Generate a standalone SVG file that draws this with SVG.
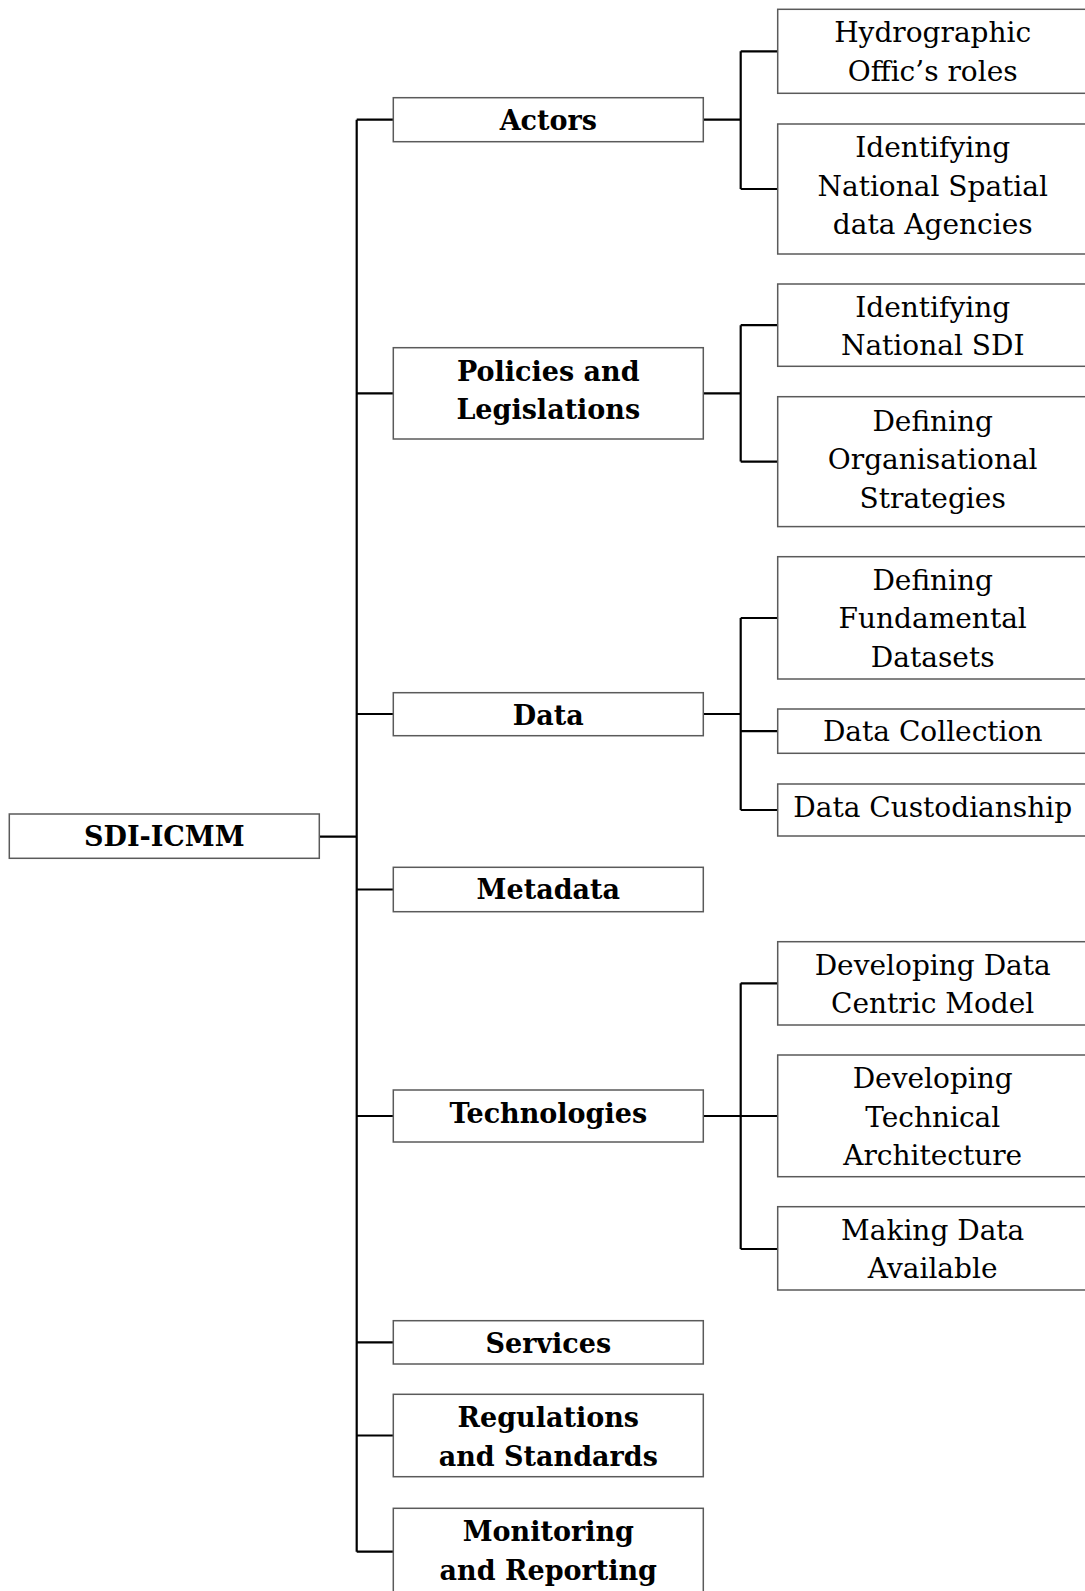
<svg xmlns="http://www.w3.org/2000/svg" width="1085" height="1591" viewBox="0 0 1085 1591">
<style>
.box{fill:#fff;stroke:#5a5a5a;stroke-width:1.5}
.t{font-family:"DejaVu Serif","Liberation Serif",serif;font-size:28px;fill:#000;text-anchor:middle}
.b{font-weight:bold;font-size:27px}
.c{fill:none;stroke:#000;stroke-width:2.2}
</style>
<rect width="1085" height="1591" fill="#fff"/>
<g id="connectors">
<path class="c" d="M356.7,119.7V1551.7M319.3,836.7H356.7M356.7,119.7H393.3M356.7,393.3H393.3M356.7,714H393.3M356.7,889.5H393.3M356.7,1116H393.3M356.7,1342.3H393.3M356.7,1435.5H393.3M356.7,1551.7H393.3"/>
<path class="c" d="M703.3,119.7H740.7M740.7,51.3V189M740.7,51.3H777.7M740.7,189H777.7"/>
<path class="c" d="M703.3,393.3H740.7M740.7,325.2V461.6M740.7,325.2H777.7M740.7,461.6H777.7"/>
<path class="c" d="M703.3,714H740.7M740.7,618V810M740.7,618H777.7M740.7,731.2H777.7M740.7,810H777.7"/>
<path class="c" d="M703.3,1116H740.7M740.7,983.3V1249M740.7,983.3H777.7M740.7,1116H777.7M740.7,1249H777.7"/>
</g>
<g id="sdi-icmm"><rect class="box" x="9.3" y="814" width="310" height="44.3"/><text class="t b" x="164.3" y="846">SDI-ICMM</text></g>
<g id="actors"><rect class="box" x="393.3" y="97.7" width="310" height="44"/><text class="t b" x="548.3" y="129.7">Actors</text></g>
<g id="policies"><rect class="box" x="393.3" y="347.7" width="310" height="91.3"/><text class="t b" x="548.3" y="380.7">Policies and</text><text class="t b" x="548.3" y="419.2">Legislations</text></g>
<g id="data"><rect class="box" x="393.3" y="692.7" width="310" height="43"/><text class="t b" x="548.3" y="724.7">Data</text></g>
<g id="metadata"><rect class="box" x="393.3" y="867.3" width="310" height="44.4"/><text class="t b" x="548.3" y="899.3">Metadata</text></g>
<g id="technologies"><rect class="box" x="393.3" y="1090" width="310" height="52"/><text class="t b" x="548.3" y="1123">Technologies</text></g>
<g id="services"><rect class="box" x="393.3" y="1320.7" width="310" height="43.3"/><text class="t b" x="548.3" y="1352.7">Services</text></g>
<g id="regulations"><rect class="box" x="393.3" y="1394.3" width="310" height="82.4"/><text class="t b" x="548.3" y="1427.3">Regulations</text><text class="t b" x="548.3" y="1465.8">and Standards</text></g>
<g id="monitoring"><rect class="box" x="393.3" y="1508.3" width="310" height="87"/><text class="t b" x="548.3" y="1541.3">Monitoring</text><text class="t b" x="548.3" y="1579.8">and Reporting</text></g>
<g id="hydrographic"><rect class="box" x="777.7" y="9.3" width="310" height="84"/><text class="t" x="932.7" y="42.3">Hydrographic</text><text class="t" x="932.7" y="80.8">Offic’s roles</text></g>
<g id="identifying-agencies"><rect class="box" x="777.7" y="124" width="310" height="130"/><text class="t" x="932.7" y="157">Identifying</text><text class="t" x="932.7" y="195.5">National Spatial</text><text class="t" x="932.7" y="234">data Agencies</text></g>
<g id="identifying-sdi"><rect class="box" x="777.7" y="284" width="310" height="82.3"/><text class="t" x="932.7" y="316.5">Identifying</text><text class="t" x="932.7" y="355">National SDI</text></g>
<g id="defining-org"><rect class="box" x="777.7" y="396.7" width="310" height="129.9"/><text class="t" x="932.7" y="430.7">Defining</text><text class="t" x="932.7" y="469.2">Organisational</text><text class="t" x="932.7" y="507.7">Strategies</text></g>
<g id="defining-fundamental"><rect class="box" x="777.7" y="556.7" width="310" height="122.3"/><text class="t" x="932.7" y="589.7">Defining</text><text class="t" x="932.7" y="628.2">Fundamental</text><text class="t" x="932.7" y="666.7">Datasets</text></g>
<g id="data-collection"><rect class="box" x="777.7" y="709" width="310" height="44.3"/><text class="t" x="932.7" y="741">Data Collection</text></g>
<g id="data-custodianship"><rect class="box" x="777.7" y="784" width="310" height="52"/><text class="t" x="932.7" y="817">Data Custodianship</text></g>
<g id="developing-data"><rect class="box" x="777.7" y="941.7" width="310" height="83.3"/><text class="t" x="932.7" y="974.7">Developing Data</text><text class="t" x="932.7" y="1013.2">Centric Model</text></g>
<g id="developing-tech"><rect class="box" x="777.7" y="1055" width="310" height="121.7"/><text class="t" x="932.7" y="1088">Developing</text><text class="t" x="932.7" y="1126.5">Technical</text><text class="t" x="932.7" y="1165">Architecture</text></g>
<g id="making-data"><rect class="box" x="777.7" y="1206.7" width="310" height="83.3"/><text class="t" x="932.7" y="1239.7">Making Data</text><text class="t" x="932.7" y="1278.2">Available</text></g>
</svg>
